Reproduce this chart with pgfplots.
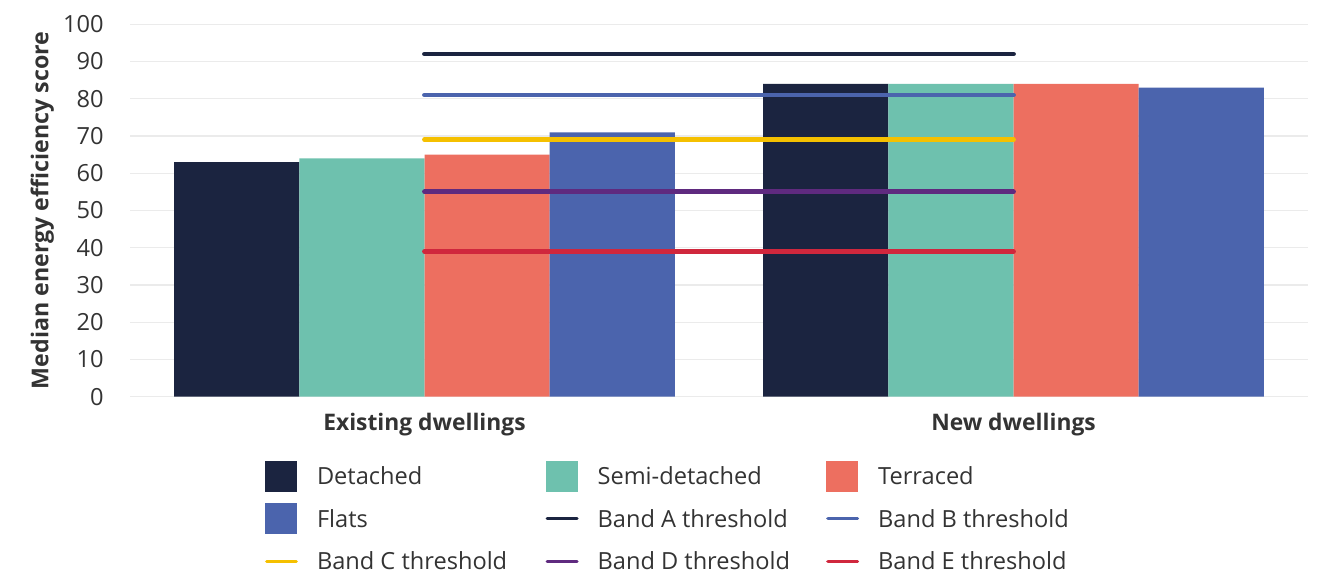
\documentclass[border=0pt]{standalone}
\usepackage{pgfplots}
\pgfplotsset{compat=1.18}
\usepackage{fontspec}
\setmainfont{Open Sans}

\definecolor{detached}{HTML}{1B2440}
\definecolor{semidet}{HTML}{6EC1AE}
\definecolor{terraced}{HTML}{ED6F60}
\definecolor{flats}{HTML}{4B64AD}
\definecolor{bandA}{HTML}{1B2440}
\definecolor{bandB}{HTML}{4B64AD}
\definecolor{bandC}{HTML}{F5C000}
\definecolor{bandD}{HTML}{5F2A7F}
\definecolor{bandE}{HTML}{D0273D}
\definecolor{gridgray}{HTML}{EBEBEB}
\definecolor{textgray}{HTML}{333333}

\newcommand\chartfont{\fontsize{11.8bp}{14bp}\selectfont}
\newcommand\boldfont{\fontsize{11.4bp}{14bp}\selectfont\bfseries}
\newcommand\ylabelfont{\fontsize{11.6bp}{14bp}\selectfont\bfseries}

\pgfplotsset{
  swatch legend/.style={legend image code/.code={%
    \fill[##1] (0bp,-7.75bp) rectangle (16bp,7.75bp);}},
  band legend/.style={legend image code/.code={%
    \path[draw=none, fill=none] (0bp,-7.75bp) rectangle (16bp,7.75bp);
    \draw[##1, line width=1.6bp, line cap=round] (0.8bp,0bp) -- (15.7bp,0bp);}},
  dwelling bar/.style={ybar, bar width=0.2125, draw=none, swatch legend},
  band line/.style={line width=2.4bp, line cap=round, mark=none, band legend},
}

\begin{document}
\begin{tikzpicture}
\begin{axis}[
  name=ax,
  scale only axis,
  width=589bp, height=186.2bp,
  xmin=-0.5, xmax=1.5, ymin=0, ymax=100,
  xtick={0,1},
  xticklabels={Existing dwellings, New dwellings},
  ytick={0,10,...,100},
  ymajorgrids,
  grid style={color=gridgray, line width=0.65bp},
  axis line style={draw=none},
  major tick length=0pt,
  tick label style={font=\chartfont, text=textgray},
  /pgf/number format/assume math mode=true,
  x tick label style={font=\boldfont, anchor=center, inner sep=0pt, yshift=-14.15bp},
  y tick label style={anchor=east, inner sep=0pt, xshift=-13bp},
  ylabel={Median energy efficiency score},
  every axis y label/.style={at={(axis description cs:-0.0745,0.5)}, anchor=center, rotate=90,
    font=\ylabelfont, text=textgray},
  legend columns=3,
  legend style={at={(axis description cs:0,0)}, anchor=north west,
    xshift=67.5bp, yshift=-31.9bp, draw=none, fill=none, inner sep=0pt, outer sep=0pt,
    row sep=5.8bp, font=\chartfont, text=textgray,
    nodes={inner sep=0pt, text height=8.4bp, text depth=0pt},
    /tikz/every odd column/.style={column sep=9.5bp},
    /tikz/every even column/.style={column sep=4.3bp}},
  legend cell align=left,
]
% median scores by dwelling type
\addplot[dwelling bar, bar shift=-0.31875, fill=detached] coordinates {(0,63) (1,84)};
\addlegendentry{\makebox[110bp][l]{Detached}}
\addplot[dwelling bar, bar shift=-0.10625, fill=semidet] coordinates {(0,64) (1,84)};
\addlegendentry{\makebox[110bp][l]{Semi-detached}}
\addplot[dwelling bar, bar shift=0.10625, fill=terraced] coordinates {(0,65) (1,84)};
\addlegendentry{\makebox[110bp][l]{Terraced}}
\addplot[dwelling bar, bar shift=0.31875, fill=flats] coordinates {(0,71) (1,83)};
\addlegendentry{\makebox[110bp][l]{Flats}}
% EPC band thresholds
\addplot[band line, color=bandA] coordinates {(0,92) (1,92)};
\addlegendentry{\makebox[110bp][l]{Band A threshold}}
\addplot[band line, color=bandB] coordinates {(0,81) (1,81)};
\addlegendentry{\makebox[110bp][l]{Band B threshold}}
\addplot[band line, color=bandC] coordinates {(0,69) (1,69)};
\addlegendentry{\makebox[110bp][l]{Band C threshold}}
\addplot[band line, color=bandD] coordinates {(0,55) (1,55)};
\addlegendentry{\makebox[110bp][l]{Band D threshold}}
\addplot[band line, color=bandE] coordinates {(0,39) (1,39)};
\addlegendentry{\makebox[110bp][l]{Band E threshold}}
\end{axis}
\pgfresetboundingbox
\path (ax.south west) ++(-65bp,-88.65bp) rectangle ++(663bp,287bp);
\end{tikzpicture}
\end{document}
